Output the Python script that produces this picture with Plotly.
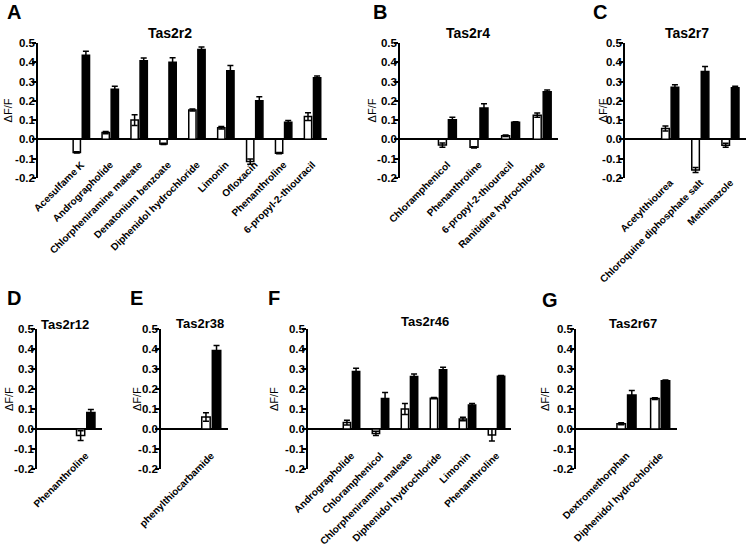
import plotly.graph_objects as go

# ---------------- data ----------------
y_tick_vals = [-0.2, -0.1, 0.0, 0.1, 0.2, 0.3, 0.4, 0.5]
y_tick_text = ["-0.2", "-0.1", "0.0", "0.1", "0.2", "0.3", "0.4", "0.5"]

tas2r2_compounds = ["Acesulfame K", "Andrographolide", "Chlorpheniramine maleate",
                    "Denatonium benzoate", "Diphenidol hydrochloride", "Limonin",
                    "Ofloxacin", "Phenanthroline", "6-propyl-2-thiouracil"]
tas2r2_white = [-0.068, 0.035, 0.100, -0.024, 0.152, 0.060, -0.116, -0.072, 0.118]
tas2r2_white_err = [0.003, 0.006, 0.028, 0.003, 0.005, 0.007, 0.013, 0.003, 0.020]
tas2r2_black = [0.437, 0.260, 0.408, 0.400, 0.466, 0.356, 0.200, 0.089, 0.320]
tas2r2_black_err = [0.020, 0.016, 0.014, 0.024, 0.013, 0.027, 0.021, 0.009, 0.008]

tas2r4_compounds = ["Chloramphenicol", "Phenanthroline", "6-propyl-2-thiouracil",
                    "Ranitidine hydrochloride"]
tas2r4_white = [-0.030, -0.042, 0.018, 0.125]
tas2r4_white_err = [0.011, 0.003, 0.004, 0.011]
tas2r4_black = [0.102, 0.163, 0.088, 0.247]
tas2r4_black_err = [0.012, 0.021, 0.003, 0.009]

tas2r7_compounds = ["Acetylthiourea", "Chloroquine diphosphate salt", "Methimazole"]
tas2r7_white = [0.056, -0.160, -0.031]
tas2r7_white_err = [0.013, 0.013, 0.011]
tas2r7_black = [0.270, 0.352, 0.267]
tas2r7_black_err = [0.013, 0.026, 0.009]

tas2r12_compounds = ["Phenanthroline"]
tas2r12_white = [-0.033]
tas2r12_white_err = [0.024]
tas2r12_black = [0.083]
tas2r12_black_err = [0.014]

tas2r38_compounds = ["phenylthiocarbamide"]
tas2r38_white = [0.060]
tas2r38_white_err = [0.021]
tas2r38_black = [0.393]
tas2r38_black_err = [0.025]

tas2r46_compounds = ["Andrographolide", "Chloramphenicol", "Chlorpheniramine maleate",
                     "Diphenidol hydrochloride", "Limonin", "Phenanthroline"]
tas2r46_white = [0.032, -0.022, 0.100, 0.154, 0.050, -0.030]
tas2r46_white_err = [0.012, 0.011, 0.027, 0.003, 0.009, 0.030]
tas2r46_black = [0.288, 0.152, 0.263, 0.296, 0.120, 0.264]
tas2r46_black_err = [0.016, 0.030, 0.012, 0.013, 0.008, 0.003]

tas2r67_compounds = ["Dextromethorphan", "Diphenidol hydrochloride"]
tas2r67_white = [0.026, 0.152]
tas2r67_white_err = [0.005, 0.004]
tas2r67_black = [0.170, 0.241]
tas2r67_black_err = [0.022, 0.004]

# ---------------- layout helpers ----------------
W, H = 746, 546
FONT = "Liberation Sans, Arial, sans-serif"


def px(x):
    return min(1.0, x / W)


def py(y):
    return 1 - y / H


panels = [
    # title, letter, compounds, white, werr, black, berr, x0, x1, ytop, ybot, labelpos, title(x,y,size), letter(x,y), ytitle x
    ("Tas2r2", "A", tas2r2_compounds, tas2r2_white, tas2r2_white_err, tas2r2_black, tas2r2_black_err,
     38, 327, 43, 177.8, 156, (170, 33, 14), (13.5, 12), 8),
    ("Tas2r4", "B", tas2r4_compounds, tas2r4_white, tas2r4_white_err, tas2r4_black, tas2r4_black_err,
     400, 558, 43, 177.8, 156, (468, 33, 14), (380.5, 12), 372),
    ("Tas2r7", "C", tas2r7_compounds, tas2r7_white, tas2r7_white_err, tas2r7_black, tas2r7_black_err,
     625, 745.5, 43, 177.8, 174, (687, 33, 14), (599.5, 12), 603),
    ("Tas2r12", "D", tas2r12_compounds, tas2r12_white, tas2r12_white_err, tas2r12_black, tas2r12_black_err,
     37, 102, 329, 469, 447, (65, 324, 13), (13.5, 297.5), 9),
    ("Tas2r38", "E", tas2r38_compounds, tas2r38_white, tas2r38_white_err, tas2r38_black, tas2r38_black_err,
     161, 228, 329, 469, 447, (200, 323, 13), (136.5, 297.5), 137),
    ("Tas2r46", "F", tas2r46_compounds, tas2r46_white, tas2r46_white_err, tas2r46_black, tas2r46_black_err,
     308, 511, 329, 469, 447, (425, 321, 13), (274, 297.5), 274),
    ("Tas2r67", "G", tas2r67_compounds, tas2r67_white, tas2r67_white_err, tas2r67_black, tas2r67_black_err,
     576, 677, 329, 469, 447, (633, 323, 13), (549.5, 299.5), 545),
]

fig = go.Figure()
annotations = []
layout_axes = {}

for i, (title, letter, comps, wv, we, bv, be, x0, x1, ytop, ybot, lab, tpos, lpos, ytx) in enumerate(panels, start=1):
    xa = "x" if i == 1 else f"x{i}"
    ya = "y" if i == 1 else f"y{i}"
    fig.add_trace(go.Bar(
        x=comps, y=wv, xaxis=xa, yaxis=ya, showlegend=False,
        marker=dict(color="white", line=dict(color="black", width=1.5)),
        error_y=dict(type="data", array=we, symmetric=True, color="black", thickness=1.5, width=3),
    ))
    fig.add_trace(go.Bar(
        x=comps, y=bv, xaxis=xa, yaxis=ya, showlegend=False,
        marker=dict(color="black", line=dict(color="black", width=1.5)),
        error_y=dict(type="data", array=be, symmetric=True, color="black", thickness=1.5, width=3),
    ))
    xkey = "xaxis" if i == 1 else f"xaxis{i}"
    ykey = "yaxis" if i == 1 else f"yaxis{i}"
    layout_axes[xkey] = dict(
        domain=[px(x0), px(x1)], anchor="free", position=py(lab),
        type="category", categoryorder="array", categoryarray=comps,
        range=[-1.5, len(comps) - 0.5], automargin=False,
        showline=False, ticks="", showgrid=False, zeroline=False,
        tickangle=-45, tickfont=dict(family=FONT, size=10, color="black", weight="bold"),
    )
    layout_axes[ykey] = dict(
        domain=[py(ybot), py(ytop)], anchor=xa, range=[-0.2, 0.5], automargin=False,
        tickmode="array", tickvals=y_tick_vals, ticktext=y_tick_text,
        ticks="outside", ticklen=4, tickwidth=1.5, tickcolor="black",
        ticklabelstandoff=-5,
        showline=True, linewidth=1.5, linecolor="black",
        zeroline=True, zerolinecolor="black", zerolinewidth=1.5,
        showgrid=False,
        tickfont=dict(family=FONT, size=11.5, color="black", weight="bold"),
    )
    annotations.append(dict(text=title, x=px(tpos[0]), y=py(tpos[1]), xref="paper", yref="paper",
                            showarrow=False, xanchor="center", yanchor="middle",
                            font=dict(family=FONT, size=tpos[2], color="black", weight="bold")))
    annotations.append(dict(text=letter, x=px(lpos[0]), y=py(lpos[1]), xref="paper", yref="paper",
                            showarrow=False, xanchor="center", yanchor="middle",
                            font=dict(family=FONT, size=20, color="black", weight="bold")))
    annotations.append(dict(text="ΔF/F", x=px(ytx), y=py((ytop + ybot) / 2), xref="paper", yref="paper",
                            showarrow=False, xanchor="center", yanchor="middle", textangle=-90,
                            font=dict(family=FONT, size=11, color="black")))

fig.update_layout(
    template="none",
    width=W, height=H, autosize=False,
    margin=dict(l=0, r=0, t=0, b=0, pad=0),
    paper_bgcolor="white", plot_bgcolor="rgba(0,0,0,0)",
    barmode="group", bargap=0.37, bargroupgap=0.2,
    showlegend=False,
    annotations=annotations,
    **layout_axes,
)

# remove the default 8 px page margin so the 746x546 figure fills the window exactly
fig.write_html("out.html", config={"displayModeBar": False},
               post_script="document.body.style.margin='0px';")
